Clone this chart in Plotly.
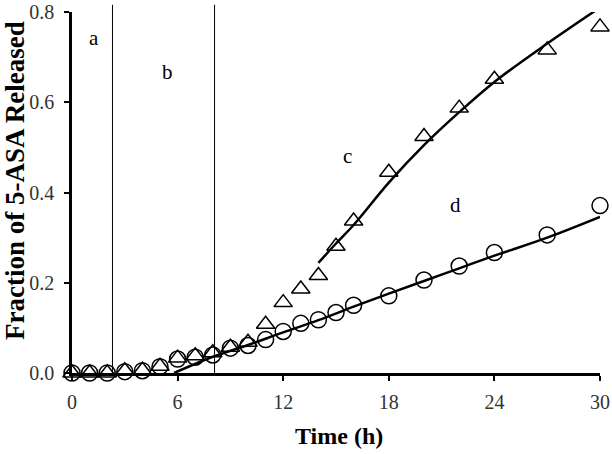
import plotly.graph_objects as go

time_h = [0, 1, 2, 3, 4, 5, 6, 7, 8, 9, 10, 11, 12, 13, 14, 15, 16, 18, 20, 22, 24, 27, 30]
released_c = [0.0, 0.0, 0.0, 0.005, 0.006, 0.015, 0.033, 0.038, 0.045, 0.057, 0.068, 0.108,
              0.156, 0.186, 0.216, 0.281, 0.337, 0.445, 0.524, 0.587, 0.651, 0.716, 0.767]
released_d = [0.0, 0.0, 0.0, 0.003, 0.005, 0.014, 0.031, 0.035, 0.040, 0.055, 0.061, 0.074,
              0.092, 0.110, 0.118, 0.134, 0.150, 0.171, 0.206, 0.237, 0.267, 0.306, 0.371]

fit_c_t = [14, 15, 16, 18, 20, 22, 24, 27, 30]
fit_c_y = [0.244, 0.287, 0.328, 0.422, 0.505, 0.578, 0.645, 0.730, 0.810]
fit_d_t = [5.8, 8, 10, 12, 14, 16, 18, 20, 22, 24, 27, 30]
fit_d_y = [0.0, 0.036, 0.062, 0.090, 0.117, 0.147, 0.176, 0.204, 0.232, 0.260, 0.300, 0.346]

phase_bounds = [2.3, 8.1]
labels = ["a", "b", "c", "d"]
label_t = [1.27, 5.4, 15.65, 21.8]
label_y = [0.743, 0.668, 0.48, 0.373]

x_title = "<b>Time (h)</b>"
y_title = "<b>Fraction of 5-ASA Released</b>"

font_family = "Liberation Serif, Times New Roman, serif"

fig = go.Figure()
fig.add_trace(go.Scatter(x=fit_c_t, y=fit_c_y, mode="lines",
                         line=dict(color="black", width=2.5, shape="spline", smoothing=1),
                         showlegend=False))
fig.add_trace(go.Scatter(x=fit_d_t, y=fit_d_y, mode="lines",
                         line=dict(color="black", width=2.5, shape="spline", smoothing=1),
                         showlegend=False))
fig.add_trace(go.Scatter(x=time_h, y=released_c, mode="markers", cliponaxis=False,
                         marker=dict(symbol="triangle-up-open", size=16, color="black",
                                     line=dict(width=1.5)), showlegend=False))
fig.add_trace(go.Scatter(x=time_h, y=released_d, mode="markers", cliponaxis=False,
                         marker=dict(symbol="circle-open", size=16, color="black",
                                     line=dict(width=1.5)), showlegend=False))

for xb in phase_bounds:
    fig.add_shape(type="line", x0=xb, x1=xb, xref="x", yref="paper", y0=0, y1=1.02,
                  line=dict(color="black", width=1))

for lab, lt, ly in zip(labels, label_t, label_y):
    fig.add_annotation(x=lt, y=ly, text=lab, showarrow=False,
                       font=dict(family=font_family, size=21, color="black"))

# axis titles placed as annotations for precise positioning
fig.add_annotation(x=0, y=0.532, xref="paper", yref="paper", text=y_title, textangle=-90,
                   showarrow=False, xanchor="center", yanchor="middle", xshift=-57,
                   font=dict(family=font_family, size=27, color="black"))
fig.add_annotation(x=0.505, y=0, xref="paper", yref="paper", text=x_title,
                   showarrow=False, xanchor="center", yanchor="middle", yshift=-63,
                   font=dict(family=font_family, size=24, color="black"))

fig.update_layout(
    width=612, height=454,
    margin=dict(l=72, r=12, t=12, b=81),
    paper_bgcolor="white", plot_bgcolor="white",
    font=dict(family=font_family, color="black"),
)
fig.update_xaxes(range=[0, 30], tickvals=[0, 6, 12, 18, 24, 30], showgrid=False, zeroline=False,
                 automargin=False,
                 showline=True, linecolor="black", linewidth=2.5, ticks="outside", ticklen=5,
                 tickwidth=1.5, tickcolor="black", tickfont=dict(size=20, color="#333"),
                 ticklabelstandoff=4)
fig.update_yaxes(range=[0, 0.8], tickvals=[0, 0.2, 0.4, 0.6, 0.8],
                 ticktext=["0.0", "0.2", "0.4", "0.6", "0.8"], showgrid=False, zeroline=False,
                 automargin=False,
                 showline=True, linecolor="black", linewidth=2.5, ticks="outside", ticklen=5,
                 tickwidth=1.5, tickcolor="black", tickfont=dict(size=20, color="#333"),
                 ticklabelstandoff=6)

fig.write_html("out.html", config={"displayModeBar": False},
               post_script="document.body.style.margin='0';document.body.style.overflow='hidden';")
